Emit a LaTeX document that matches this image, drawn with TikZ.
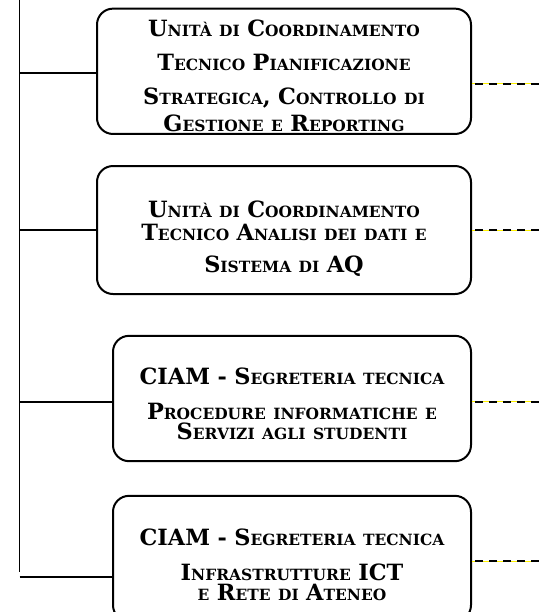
\documentclass[tikz,border=0pt]{standalone}
\usepackage{fontspec}
\setmainfont{DejaVu Serif}
\usetikzlibrary{calc}
\newcommand\smallcap[1]{{\fontsize{11.6}{14}\selectfont #1}}

\begin{document}
\begin{tikzpicture}[x=0.75pt, y=-0.75pt,
  unit/.style={draw, line width=1.5pt, rounded corners=12pt, minimum height=94pt},
  unittext/.style={anchor=base, align=center, text width=262pt, inner sep=0pt, font={\fontsize{16.8}{14}\selectfont\bfseries}, execute at begin node={\baselineskip=14pt\lineskiplimit=-30pt\lineskip=0pt}},
  link/.style={line width=1.2pt},
  feed/.style={draw=yellow, line width=0.6pt, postaction={draw=black, line width=1.5pt, dash pattern=on 6pt off 4.5pt}}]
\useasboundingbox (0,0) rectangle (539,612);
\clip (0,0) rectangle (539,612);

% units
\node[unit, minimum width=280.5pt] (u1) at (284,71.3) {};
\node[unit, minimum width=280.5pt, minimum height=96pt] (u2) at (284,230) {};
\node[unit, minimum width=268.5pt] (u3) at (292,398.5) {};
\node[unit, minimum width=268.5pt] (u4) at (292,558.5) {};

% unit names
\node[unittext] (t1) at ([yshift=-22pt]u1.north) {U\smallcap{NITÀ DI} C\smallcap{OORDINAMENTO}\\[11.5pt] T\smallcap{ECNICO} P\smallcap{IANIFICAZIONE}\\[10.8pt] S\smallcap{TRATEGICA}, C\smallcap{ONTROLLO DI}\\[6.3pt] G\smallcap{ESTIONE E} R\smallcap{EPORTING}};
\node[unittext] (t2) at ([yshift=-39.5pt]u2.north) {U\smallcap{NITÀ DI} C\smallcap{OORDINAMENTO}\\[2.9pt] T\smallcap{ECNICO} A\smallcap{NALISI DEI DATI E}\\[10.4pt] S\smallcap{ISTEMA DI} AQ};
\node[unittext] (t3) at ([yshift=-37.3pt]u3.north) {CIAM - S\smallcap{EGRETERIA TECNICA}\\[12pt] P\smallcap{ROCEDURE INFORMATICHE E}\\[1pt] S\smallcap{ERVIZI AGLI STUDENTI}};
\node[unittext] (t4) at ([yshift=-38pt]u4.north) {CIAM - S\smallcap{EGRETERIA TECNICA}\\[12pt] I\smallcap{NFRASTRUTTURE} ICT\\[1pt] \smallcap{E} R\smallcap{ETE DI} A\smallcap{TENEO}};

% trunk
\coordinate (top) at (19.6,-5);
\coordinate (bot) at (19.6,572);
\draw[link] (top) -- (bot);

% left links
\coordinate (j1) at (19.6,73);
\coordinate (j2) at (19.6,230);
\coordinate (j3) at (19.6,402);
\coordinate (j4) at (19.6,577);
\foreach \i in {1,...,4}
  \draw[link] (j\i) -- (j\i -| u\i.west);

% right links
\coordinate (e1) at (539,83.5);
\coordinate (e2) at (539,230);
\coordinate (e3) at (539,401.5);
\coordinate (e4) at (539,561);
\foreach \i in {1,...,4}
  \draw[feed] (e\i) -- (e\i -| u\i.east);
\end{tikzpicture}
\end{document}
